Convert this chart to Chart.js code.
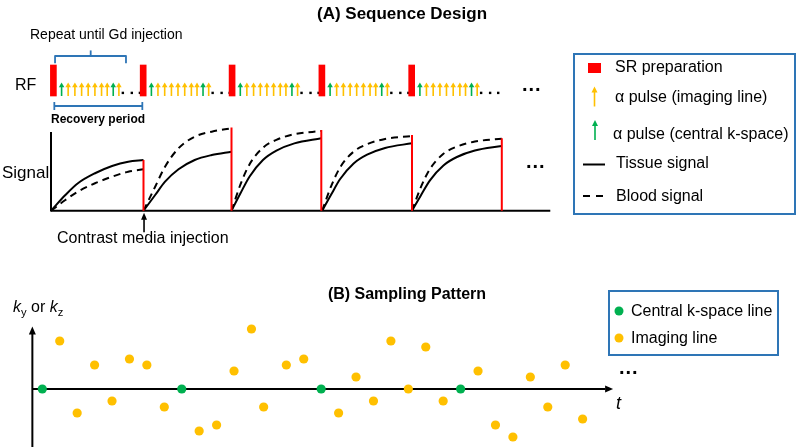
<!DOCTYPE html>
<html>
<head>
<meta charset="utf-8">
<script src="https://cdn.jsdelivr.net/npm/chart.js@4.4.1/dist/chart.umd.min.js"></script>
<style>
  body { margin: 0; background: #fff; }
  #wrap { position: relative; width: 800px; height: 447px; font-family: "Liberation Sans", Arial, sans-serif; color: #000; }
  #wrap canvas, #wrap svg { position: absolute; left: 0; top: 0; }
  .t { position: absolute; white-space: nowrap; line-height: 1; transform: translateY(-50%); }
  .c { transform: translate(-50%, -50%); }
  .b { font-weight: bold; }
  .box { position: absolute; border: 2px solid #2E75B6; box-sizing: border-box; }
  sub { font-size: 70%; vertical-align: -0.35em; }
</style>
</head>
<body>
<div id="wrap">
  <canvas id="chart" width="800" height="447"></canvas>

  <!-- panel A texts -->
  <div class="t c b" style="left:402px; top:13px; font-size:17px;">(A) Sequence Design</div>
  <div class="t" style="left:30px; top:34px; font-size:14px;">Repeat until Gd injection</div>
  <div class="t" style="left:15px; top:85px; font-size:16px;">RF</div>
  <div class="t b" style="left:51px; top:119px; font-size:12px;">Recovery period</div>
  <div class="t" style="left:2px; top:172px; font-size:17px;">Signal</div>
  <div class="t" style="left:57px; top:238px; font-size:16px;">Contrast media injection</div>
  <div class="t b" style="left:522px; top:84px; font-size:20px; letter-spacing:1px;">...</div>
  <div class="t b" style="left:526px; top:161px; font-size:20px; letter-spacing:1px;">...</div>

  <!-- legend A -->
  <div class="box" style="left:573px; top:53px; width:223px; height:162px;"></div>
  <div class="t" style="left:615px; top:67px; font-size:16px;">SR preparation</div>
  <div class="t" style="left:615px; top:97px; font-size:16px;">α pulse (imaging line)</div>
  <div class="t" style="left:613px; top:134px; font-size:16px;">α pulse (central k-space)</div>
  <div class="t" style="left:616px; top:163px; font-size:16px;">Tissue signal</div>
  <div class="t" style="left:616px; top:196px; font-size:16px;">Blood signal</div>

  <!-- panel B texts -->
  <div class="t c b" style="left:407px; top:294px; font-size:16px;">(B) Sampling Pattern</div>
  <div class="t" style="left:13px; top:309px; font-size:16px;"><i>k</i><sub>y</sub> or <i>k</i><sub>z</sub></div>
  <div class="t" style="left:616px; top:403px; font-size:18px; font-style:italic;">t</div>
  <div class="t b" style="left:619px; top:367px; font-size:20px; letter-spacing:1px;">...</div>

  <!-- legend B -->
  <div class="box" style="left:608px; top:290px; width:171px; height:66px;"></div>
  <div class="t" style="left:631px; top:311px; font-size:16px;">Central k-space line</div>
  <div class="t" style="left:631px; top:338px; font-size:16px;">Imaging line</div>

  <svg width="800" height="447">
    <rect x="588" y="63" width="13" height="10" fill="#FF0000"/>
    <line x1="594.5" y1="106.5" x2="594.5" y2="91" stroke="#FFC000" stroke-width="1.6"/>
    <polygon points="594.5,86.5 591.5,92.5 597.5,92.5" fill="#FFC000"/>
    <line x1="595" y1="140" x2="595" y2="124.5" stroke="#00B050" stroke-width="1.6"/>
    <polygon points="595,120 592,126 598,126" fill="#00B050"/>
    <line x1="583" y1="164.5" x2="605" y2="164.5" stroke="#000" stroke-width="2"/>
    <line x1="583" y1="196" x2="604" y2="196" stroke="#000" stroke-width="2" stroke-dasharray="7,6"/>
    <circle cx="619" cy="311" r="4.5" fill="#00B050"/>
    <circle cx="619" cy="338" r="4.5" fill="#FFC000"/>
  </svg>
</div>

<script>
// ---- panel A : RF events (time in recovery-period units) ----
var srTimes = [0.06, 1.06, 2.05, 3.05, 4.05];
var pulseOffsets = [0.058, 0.131, 0.206, 0.281, 0.354, 0.429, 0.503, 0.566, 0.633, 0.696];
var pulseKinds = ['c', 'i', 'i', 'i', 'i', 'i', 'i', 'i', 'c', 'i'];
var pulseAmp = 0.33;
var gapDotOffsets = [0.74, 0.84, 0.93];

// ---- panel A : signal curves, [time, signal] per recovery period ----
var tissueSignal = [
  [[0, 0], [0.16, 19.6], [0.30, 34.3], [0.49, 46.8], [0.68, 55.9], [0.86, 61.3], [1.03, 63.4]],
  [[1.03, 0], [1.16, 19.6], [1.27, 36.3], [1.42, 51.8], [1.60, 63.4], [1.79, 69.6], [2.01, 73.8]],
  [[2.01, 0], [2.11, 21.7], [2.21, 42.5], [2.36, 63.4], [2.51, 75.1], [2.71, 84.2], [3.01, 90.5]],
  [[3.02, 0], [3.12, 20.2], [3.22, 39.6], [3.37, 59.0], [3.52, 70.0], [3.72, 78.4], [4.02, 84.3]],
  [[4.02, 0], [4.12, 19.4], [4.22, 38.0], [4.37, 56.6], [4.52, 67.1], [4.72, 75.2], [5.02, 80.9]]
];
var bloodSignal = [
  [[0, 0], [0.16, 13.4], [0.30, 23.8], [0.49, 34.3], [0.68, 42.5], [0.86, 48.8], [1.03, 51.8]],
  [[1.03, 0], [1.16, 30.0], [1.27, 55.0], [1.42, 78.0], [1.60, 92.5], [1.79, 98.8], [2.01, 103]],
  [[2.01, 0], [2.11, 32.9], [2.21, 57.8], [2.36, 78.7], [2.51, 88.6], [2.71, 95.6], [3.01, 99.6]],
  [[3.02, 0], [3.12, 30.8], [3.22, 54.2], [3.37, 73.8], [3.52, 83.1], [3.72, 89.7], [4.02, 93.4]],
  [[4.02, 0], [4.12, 29.7], [4.22, 52.2], [4.37, 71.1], [4.52, 80.1], [4.72, 86.4], [5.02, 90.0]]
];
var resetTimes = [1.03, 2.01, 3.01, 4.02, 5.02];
var resetTops = [63.4, 104, 101, 94.6, 90.5];

// ---- panel B : sampling pattern (readout index, ky) ----
var centralTimes = [0, 8, 16, 24];
var centralKy = [0, 0, 0, 0];
var imagingTimes = [1, 2, 3, 4, 5, 6, 7, 9, 10, 11, 12, 12.7, 14, 15, 17, 18, 19, 20, 21, 22, 23, 25, 26, 27, 28, 29, 30, 31];
var imagingKy = [8, -4, 4, -2, 5, 4, -3, -7, -6, 3, 10, -3, 4, 5, -4, 2, -2, 8, 0, 7, -2, 3, -6, -8, 2, -3, 4, -5];

var RED = '#FF0000', YELLOW = '#FFC000', GREEN = '#00B050', BLUE = '#2E75B6';

// scale range so that value v0 sits at pixel px0 with ppu pixels per unit
function xRange(px0, v0, ppu, size) { return { min: v0 - px0 / ppu, max: v0 + (size - px0) / ppu }; }
function yRange(px0, v0, ppu, size) { return { min: v0 - (size - px0) / ppu, max: v0 + px0 / ppu }; }

function withGaps(cycles) {
  var out = [];
  cycles.forEach(function (c) {
    c.forEach(function (p) { out.push({ x: p[0], y: p[1] }); });
    out.push({ x: c[c.length - 1][0], y: null });
  });
  return out;
}

function pulseData(kind) {
  var out = [];
  srTimes.forEach(function (t0) {
    pulseOffsets.forEach(function (o, i) {
      if (pulseKinds[i] !== kind) return;
      out.push({ x: t0 + o, y: 0 }, { x: t0 + o, y: pulseAmp, head: true }, { x: t0 + o, y: null });
    });
  });
  return out;
}

var dotData = [];
srTimes.forEach(function (t0) {
  gapDotOffsets.forEach(function (o) { dotData.push({ x: t0 + o, y: 0.1 }); });
});

var resetData = [];
resetTimes.forEach(function (t, i) {
  resetData.push({ x: t, y: 0 }, { x: t, y: resetTops[i] }, { x: t, y: null });
});

function stroke(ctx, pts, color, w) {
  ctx.beginPath();
  ctx.strokeStyle = color;
  ctx.lineWidth = w;
  pts.forEach(function (p, i) { if (i) ctx.lineTo(p[0], p[1]); else ctx.moveTo(p[0], p[1]); });
  ctx.stroke();
}
function head(ctx, x, y, dir, len, half) {
  ctx.beginPath();
  ctx.fillStyle = '#000';
  if (dir === 'up') { ctx.moveTo(x, y); ctx.lineTo(x - half, y + len); ctx.lineTo(x + half, y + len); }
  else { ctx.moveTo(x, y); ctx.lineTo(x - len, y - half); ctx.lineTo(x - len, y + half); }
  ctx.closePath();
  ctx.fill();
}

var diagramPlugin = {
  id: 'diagram',
  beforeDatasetsDraw: function (chart) {
    var ctx = chart.ctx, s = chart.scales;
    var X = function (v) { return s.x.getPixelForValue(v); };
    var S = function (v) { return s.ySig.getPixelForValue(v); };
    var R = function (v) { return s.yRF.getPixelForValue(v); };
    var XB = function (v) { return s.xB.getPixelForValue(v); };
    var K = function (v) { return s.yK.getPixelForValue(v); };
    ctx.save();
    ctx.lineJoin = 'round';
    // signal axes
    stroke(ctx, [[X(0), S(98.5)], [X(0), S(0)], [X(5.56), S(0)]], '#000', 2);
    // contrast injection arrow
    stroke(ctx, [[X(1.036), S(-27)], [X(1.036), S(-8)]], '#000', 1.6);
    head(ctx, X(1.036), S(-2.5), 'up', 7, 3);
    // braces
    stroke(ctx, [[X(0.045), R(1.055)], [X(0.045), R(1.29)], [X(0.835), R(1.29)], [X(0.835), R(1.055)]], BLUE, 1.8);
    stroke(ctx, [[X(0.442), R(1.29)], [X(0.442), R(1.47)]], BLUE, 1.8);
    stroke(ctx, [[X(0.037), R(-0.323)], [X(1.017), R(-0.323)]], BLUE, 1.8);
    stroke(ctx, [[X(0.037), R(-0.194)], [X(0.037), R(-0.452)]], BLUE, 1.8);
    stroke(ctx, [[X(1.017), R(-0.194)], [X(1.017), R(-0.452)]], BLUE, 1.8);
    // sampling axes
    stroke(ctx, [[XB(-0.57), K(-10)], [XB(-0.57), K(9.2)]], '#000', 2);
    head(ctx, XB(-0.57), K(10.4), 'up', 8, 3.5);
    stroke(ctx, [[XB(-0.57), K(0)], [XB(32.3), K(0)]], '#000', 2);
    head(ctx, XB(32.75), K(0), 'right', 8, 3.5);
    ctx.restore();
  }
};

var xr = xRange(51, 0, 89.8, 800);
var sigR = yRange(210.7, 0, 0.8, 447);
var rfR = yRange(96, 0, 31, 447);
var xbR = xRange(42.3, 0, 17.43, 800);
var kR = yRange(389, 0, 6, 447);

function hidden(axis, r) {
  return { type: 'linear', axis: axis, display: false, offset: false, grace: 0, min: r.min, max: r.max };
}

new Chart(document.getElementById('chart'), {
  type: 'line',
  data: {
    datasets: [
      { label: 'Reset', data: resetData, xAxisID: 'x', yAxisID: 'ySig',
        borderColor: RED, borderWidth: 2, pointRadius: 0, spanGaps: false },
      { label: 'Tissue signal', data: withGaps(tissueSignal), xAxisID: 'x', yAxisID: 'ySig',
        borderColor: '#000', borderWidth: 2, pointRadius: 0, cubicInterpolationMode: 'monotone', spanGaps: false },
      { label: 'Blood signal', data: withGaps(bloodSignal), xAxisID: 'x', yAxisID: 'ySig',
        borderColor: '#000', borderWidth: 2, borderDash: [7, 5], pointRadius: 0, cubicInterpolationMode: 'monotone', spanGaps: false },
      { type: 'bar', label: 'SR preparation', data: srTimes.map(function (t) { return { x: t, y: [0, 1] }; }),
        xAxisID: 'x', yAxisID: 'yRF', backgroundColor: RED, barThickness: 6, borderWidth: 0 },
      { label: 'α pulse (imaging line)', data: pulseData('i'), xAxisID: 'x', yAxisID: 'yRF',
        borderColor: YELLOW, borderWidth: 1.6, spanGaps: false, pointStyle: 'triangle',
        pointRadius: function (c) { return c.raw && c.raw.head ? 3.2 : 0; },
        pointBackgroundColor: YELLOW, pointBorderWidth: 0 },
      { label: 'α pulse (central k-space)', data: pulseData('c'), xAxisID: 'x', yAxisID: 'yRF',
        borderColor: GREEN, borderWidth: 1.6, spanGaps: false, pointStyle: 'triangle',
        pointRadius: function (c) { return c.raw && c.raw.head ? 3.2 : 0; },
        pointBackgroundColor: GREEN, pointBorderWidth: 0 },
      { label: 'gap', data: dotData, xAxisID: 'x', yAxisID: 'yRF', showLine: false,
        pointStyle: 'rect', pointRadius: 1.7, pointBackgroundColor: '#000', pointBorderWidth: 0 },
      { label: 'Central k-space line', data: centralTimes.map(function (t, i) { return { x: t, y: centralKy[i] }; }),
        xAxisID: 'xB', yAxisID: 'yK', showLine: false, pointRadius: 4.6,
        pointBackgroundColor: GREEN, pointBorderWidth: 0 },
      { label: 'Imaging line', data: imagingTimes.map(function (t, i) { return { x: t, y: imagingKy[i] }; }),
        xAxisID: 'xB', yAxisID: 'yK', showLine: false, pointRadius: 4.6,
        pointBackgroundColor: YELLOW, pointBorderWidth: 0 }
    ]
  },
  options: {
    responsive: false,
    animation: false,
    events: [],
    layout: { padding: 0, autoPadding: false },
    plugins: { legend: { display: false }, tooltip: { enabled: false } },
    scales: {
      x: hidden('x', xr),
      xB: hidden('x', xbR),
      ySig: hidden('y', sigR),
      yRF: hidden('y', rfR),
      yK: hidden('y', kR)
    }
  },
  plugins: [diagramPlugin]
});
</script>
</body>
</html>
